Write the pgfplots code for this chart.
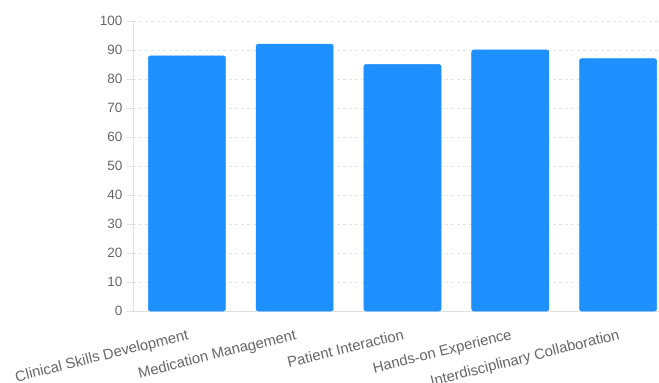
\documentclass[border=0pt]{standalone}
\usepackage{pgfplots}
\pgfplotsset{compat=1.18}
\usetikzlibrary{calc}
\usepackage{fontspec}
\setmainfont{Liberation Sans}
\definecolor{barblue}{HTML}{1E90FF}
\definecolor{txt}{HTML}{666666}
\definecolor{gridc}{HTML}{E3E3E3}
\definecolor{axc}{HTML}{E0E0E0}
\begin{document}
\begin{tikzpicture}
\begin{axis}[
  scale only axis, width=526pt, height=290pt,
  xmin=-0.5, xmax=4.38, ymin=0, ymax=100,
  ytick={0,10,...,100},
  xtick={0,1,2,3,4},
  xticklabels={Clinical Skills Development, Medication Management, Patient Interaction, Hands-on Experience, Interdisciplinary Collaboration},
  axis x line*=bottom, axis y line*=left,
  axis line style={axc, line width=0.8pt, -},
  x axis line style={-}, y axis line style={-},
  ymajorgrids, grid style={gridc, dashed, dash pattern=on 3pt off 3pt, line width=0.6pt},
  tick align=outside,
  major tick length=6pt,
  xtick style={draw=none},
  ytick style={axc, line width=0.8pt},
  yticklabel style={font=\fontsize{13.5}{15}\selectfont, text=txt, xshift=-1pt},
  xticklabel style={font=\fontsize{14.8}{16}\selectfont, text=txt, rotate=14, anchor=north east, inner sep=1pt, yshift=-10pt, xshift=-2pt},
  /pgf/number format/assume math mode=true,
  ybar, bar width=0.715,
  clip=false,
]
\addplot[fill=barblue, draw=barblue, line width=0.5pt, rounded corners=2pt] coordinates {(0,88) (1,92) (2,85) (3,90) (4,87)};
\coordinate (O) at (rel axis cs:0,0);
\coordinate (T) at (rel axis cs:1,1);
\end{axis}
\pgfresetboundingbox
\path ($(O)+(-133pt,-72pt)$) rectangle ($(T)+(0,21pt)$);
\end{tikzpicture}
\end{document}
